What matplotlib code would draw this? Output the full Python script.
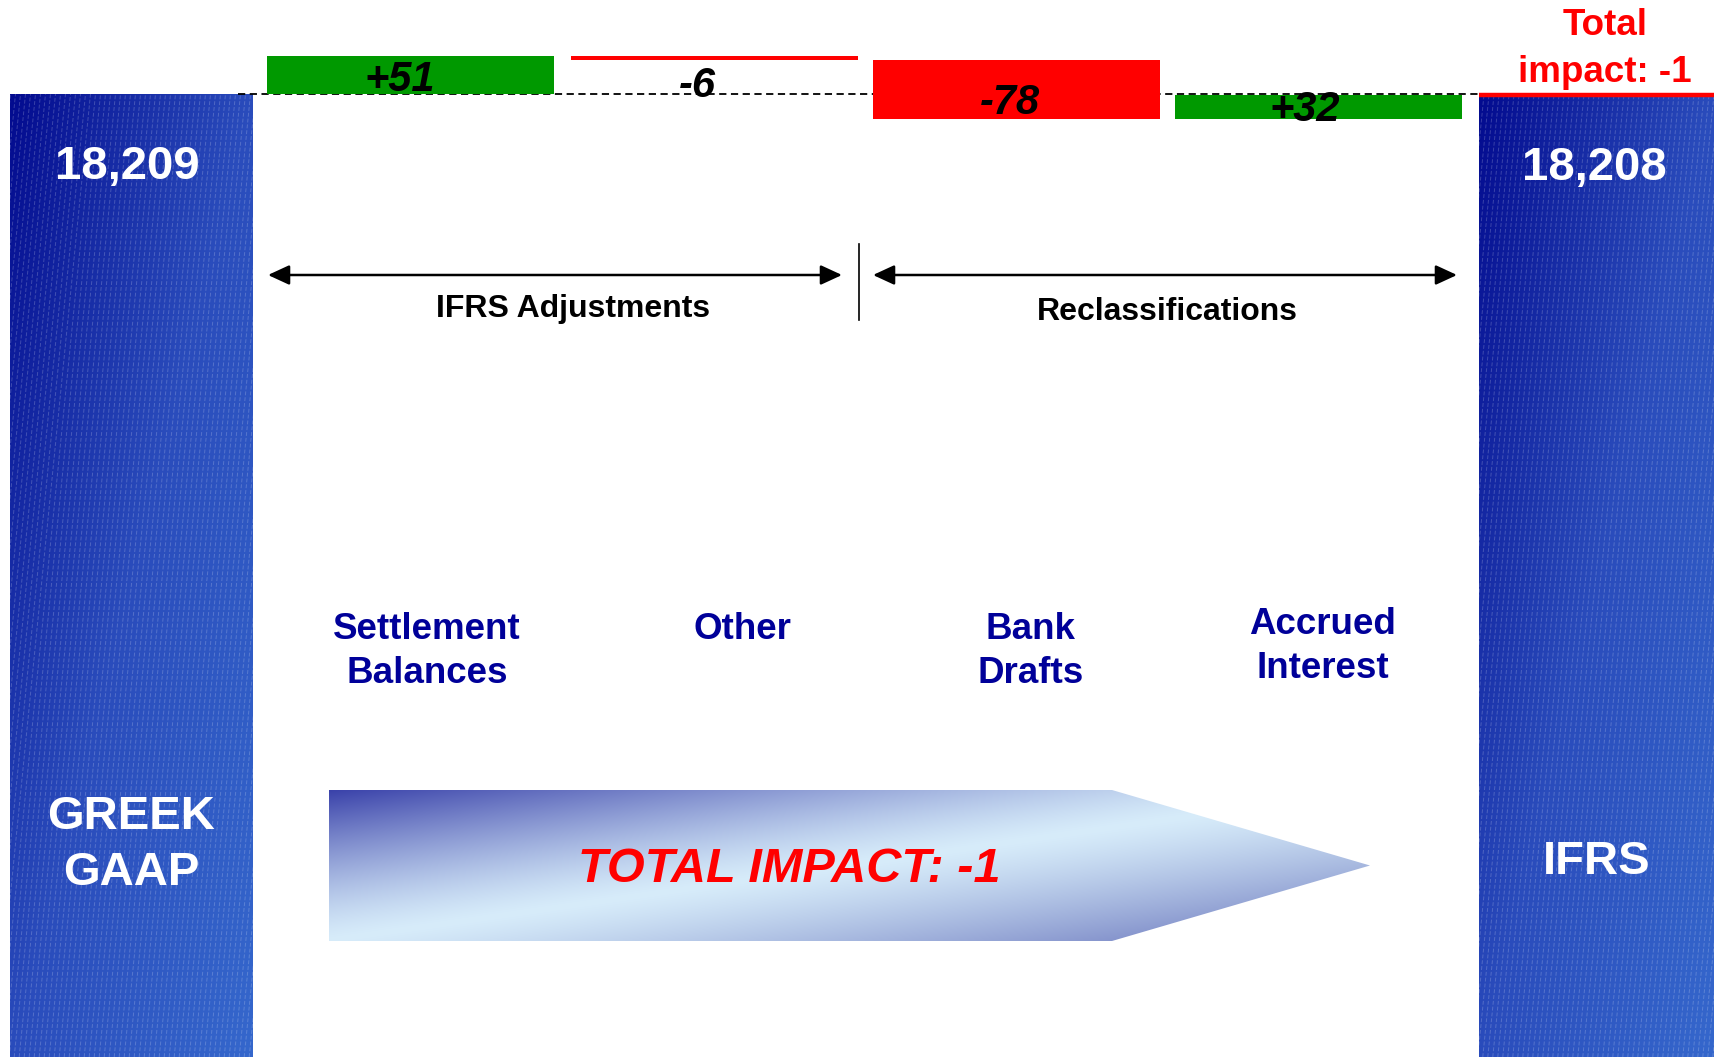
import numpy as np
import matplotlib
matplotlib.use("Agg")
import matplotlib.pyplot as plt
from matplotlib.patches import Polygon
from matplotlib.collections import LineCollection
from matplotlib.colors import LinearSegmentedColormap, to_rgb

plt.rcParams['font.family'] = ['Liberation Sans', 'DejaVu Sans']

# ---- data ----
start_value = "18,209"
end_value = "18,208"
start_name = "GREEK\nGAAP"
end_name = "IFRS"
steps = ["Settlement\nBalances", "Other", "Bank\nDrafts", "Accrued\nInterest"]
deltas = [51, -6, -78, 32]
delta_labels = ["+51", "-6", "-78", "+32"]
groups = ["IFRS Adjustments", "Reclassifications"]
total = sum(deltas)

# ---- layout (pixels of a 1715x1057 canvas) ----
W, H = 1715, 1057
SCALE = 0.745    # px per unit of change
BASE_PX = 94     # row of the starting level
step_x = [411, 715, 1017, 1319]
step_w = 287
value_label_x = [400, 697, 1010, 1305]
value_label_px = [80, 86, 103, 110]
label_x = [427, 742, 1031, 1323]
label_top = [612, 612, 612, 607]
end_x = [132, 1597]
end_w = [243, 236]

fig = plt.figure(figsize=(W / 100, H / 100), dpi=100)
ax = fig.add_axes([0, 0, 1, 1])
ylim = (-(H - BASE_PX) / SCALE, BASE_PX / SCALE)


def P(x, y):
    # canvas pixel (from top-left) -> data coords
    return x, (BASE_PX - y) / SCALE


blue_cmap = LinearSegmentedColormap.from_list("blue", ["#030b8f", "#2a4cbc", "#3567cc"])


def blue_fill(rect):
    x0, y0 = rect.get_x(), rect.get_y()
    w, h = rect.get_width(), rect.get_height()
    h_px = h * SCALE
    u = np.linspace(0, 1, 80)[None, :]
    v = np.linspace(0, 1, 300)[:, None]
    t = np.clip(0.5 * u + 0.5 * v, 0, 1)
    im = ax.imshow(blue_cmap(t), extent=(x0, x0 + w, y0, y0 + h), origin='upper',
                   aspect='auto', zorder=1, interpolation='bilinear')
    im.set_clip_path(rect)
    k = 0.1
    xs = np.arange(x0 - k * h_px, x0 + w, 5)
    segs = [[(x, y0), (x + k * h_px, y0 + h)] for x in xs]
    lc = LineCollection(segs, colors='white', linewidths=0.7, alpha=0.2,
                        linestyles=[(0, (4, 2))], zorder=1.5)
    ax.add_collection(lc)
    lc.set_clip_path(rect)


# start / end columns
ends = ax.bar(end_x, [0 - ylim[0], total - ylim[0]], bottom=ylim[0], width=end_w,
              color='none', edgecolor='none', zorder=1)
for r in ends:
    blue_fill(r)

# waterfall steps
levels = np.concatenate([[0], np.cumsum(deltas)])
bottoms = np.minimum(levels[:-1], levels[1:])
colors = ['#009900' if d > 0 else '#ff0000' for d in deltas]
ax.bar(step_x, np.abs(deltas), width=step_w, bottom=bottoms, color=colors, zorder=3)

# baseline and total marker
ax.plot([238, 1553], [0, 0], color='black', lw=1.3, ls=(0, (4, 2.5)), zorder=2)
ax.plot([end_x[1] - end_w[1] / 2, W], [total, total], color='#ff0000', lw=3.2,
        solid_capstyle='butt', zorder=4)

for x, ypx, lab in zip(value_label_x, value_label_px, delta_labels):
    ax.text(*P(x, ypx), lab, ha='center', va='center', fontsize=30, fontweight='bold',
            fontstyle='italic', color='black', zorder=5)

# end labels
txt = dict(color='white', fontweight='bold', ha='center', va='center', zorder=5)
ax.text(*P(127, 167), start_value, fontsize=34, **txt)
ax.text(*P(1594, 168), end_value, fontsize=34, **txt)
ax.text(*P(131, 845), start_name, fontsize=34, linespacing=1.36, **txt)
ax.text(*P(1597, 862), end_name, fontsize=34, **txt)
ax.text(*P(1605, 49), "Total\nimpact: %d" % total, fontsize=26.5, color='#ff0000',
        fontweight='bold', ha='center', va='center', linespacing=1.45, zorder=5)

# group arrows
arrow = dict(arrowstyle='<|-|>,head_length=0.65,head_width=0.3', color='black', lw=1.8,
             mutation_scale=20, shrinkA=0, shrinkB=0)
ax.annotate('', xy=P(842, 275), xytext=P(268, 275), arrowprops=arrow)
ax.annotate('', xy=P(1457, 275), xytext=P(873, 275), arrowprops=arrow)
ax.plot(*zip(P(859, 244), P(859, 320)), color='black', lw=1.2)
ax.text(*P(573, 309), groups[0], fontsize=23, fontweight='bold', ha='center', va='center')
ax.text(*P(1167, 312), groups[1], fontsize=23, fontweight='bold', ha='center', va='center')

# category labels
for x, yt, s in zip(label_x, label_top, steps):
    ax.text(*P(x, yt), s, fontsize=26.5, fontweight='bold', color='#000099',
            ha='center', va='top', linespacing=1.33)

# big gradient arrow
ax0, ay0, ay1, rx1, tipx = 329, 790, 941, 1112, 1370
pts = [P(ax0, ay0), P(rx1, ay0), P(tipx, (ay0 + ay1) / 2), P(rx1, ay1), P(ax0, ay1)]
poly = Polygon(pts, closed=True, facecolor='none', edgecolor='none', zorder=2)
ax.add_patch(poly)
u = np.linspace(0, 1, tipx - ax0)[None, :]
v = np.linspace(0, 1, ay1 - ay0)[:, None]
m = u + v
light = np.array(to_rgb('#d7ecfa'))
dark_l = np.array(to_rgb('#3a42aa'))
dark_r = np.array(to_rgb('#6672bb'))
s_l = np.clip(1 - m, 0, 1) ** 1.3
s_r = np.clip(m - 1, 0, 1) ** 1.2
img = light * (1 - s_l - s_r)[..., None] + dark_l * s_l[..., None] + dark_r * s_r[..., None]
im = ax.imshow(np.clip(img, 0, 1), extent=(ax0, tipx, P(0, ay1)[1], P(0, ay0)[1]),
               origin='upper', aspect='auto', zorder=2, interpolation='bilinear')
im.set_clip_path(poly)
ax.text(*P(789, 870), "TOTAL IMPACT: %d" % total, fontsize=35, fontweight='bold',
        fontstyle='italic', color='#ff0000', ha='center', va='center', zorder=5)

ax.set_xlim(0, W)
ax.set_ylim(*ylim)
ax.axis('off')
fig.savefig('out.png', dpi=100, facecolor='white')
